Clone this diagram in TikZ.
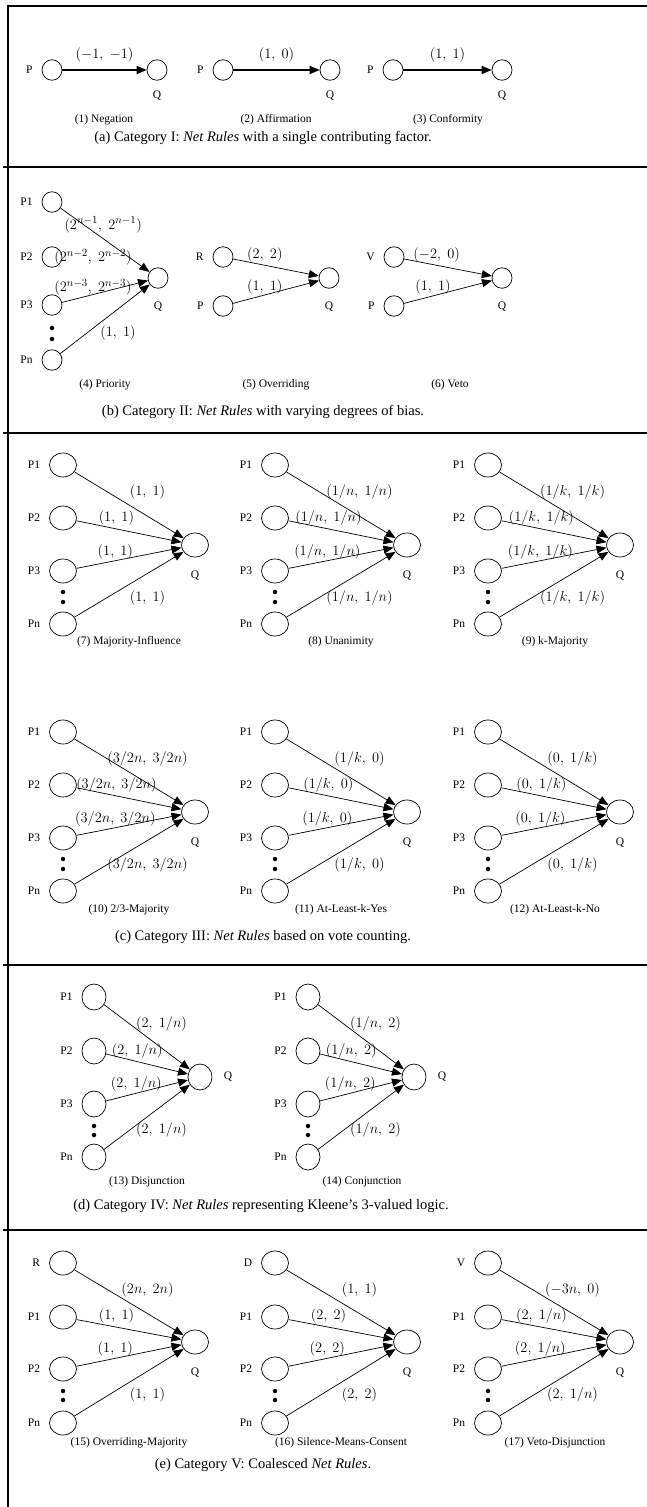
\documentclass[tikz,border=0pt]{standalone}
\usepackage{fontspec}
\setmainfont{Liberation Serif}
\usetikzlibrary{positioning, arrows.meta, shapes.geometric}

\begin{document}
\begin{tikzpicture}[
        x=1pt, y=1pt,
        on grid,
        label distance=5.5pt,
        every label/.style={font=\fontsize{11.5}{13}\selectfont},
        % Styles
        unit/.style     ={ellipse, draw=black, line width=0.7pt, minimum width=27pt, minimum height=24pt, inner sep=0pt},
        smallunit/.style={unit, minimum width=20pt, minimum height=20.5pt},
        tallunit/.style ={unit, minimum width=24pt, minimum height=26pt},
        bullet/.style   ={circle, fill=black, inner sep=0pt, minimum size=4.5pt},
        weight/.style   ={font=\fontsize{15.5}{17}\selectfont, inner sep=1pt},
        subcap/.style   ={font=\fontsize{11.5}{13}\selectfont},
        caption/.style  ={font=\fontsize{14.5}{17}\selectfont},
        line/.style     ={-{Triangle[length=10pt, width=8pt]}, line width=0.7pt},
        heavyline/.style={line, line width=1.6pt},
        sepline/.style  ={line width=2.4pt},
        topw/.style     ={pos=.67, yshift=24pt},
        upw/.style      ={pos=.38, yshift=11pt},
        lowupw/.style   ={pos=.37, yshift=9pt},
        botw/.style     ={pos=.67, yshift=-24pt}
    ]

    \useasboundingbox (0,0) rectangle (647,-1507);

    % Frame and rules between the panels
    \draw[sepline] (647,-6) -- (8,-6) -- (8,-1507);
    \draw[sepline] (3,-167) -- (647,-167);
    \draw[sepline] (3,-433) -- (647,-433);
    \draw[sepline] (3,-965) -- (647,-965);
    \draw[sepline] (3,-1230) -- (647,-1230);

    % --- (a) CATEGORY I ---

    % Negation
    \node[smallunit, label=left:P] (P_1) at (52,-70) {};
    \node[smallunit, label={[label distance=7pt]below:Q}, right=105pt of P_1] (Q_1) {};
    \draw[heavyline] (P_1) -- node[weight, midway, yshift=15pt] (w_1) {$(-1,\ -1)$} (Q_1);
    \node[subcap] (sub1) at (104,-120) {(1) Negation};

    % Affirmation
    \node[smallunit, label=left:P] (P_2) at (223,-70) {};
    \node[smallunit, label={[label distance=7pt]below:Q}, right=107pt of P_2] (Q_2) {};
    \draw[heavyline] (P_2) -- node[weight, midway, yshift=15pt] (w_2) {$(1,\ 0)$} (Q_2);
    \node[subcap] (sub2) at (276,-120) {(2) Affirmation};

    % Conformity
    \node[smallunit, label=left:P] (P_3) at (393,-70) {};
    \node[smallunit, label={[label distance=7pt]below:Q}, right=109pt of P_3] (Q_3) {};
    \draw[heavyline] (P_3) -- node[weight, midway, yshift=15pt] (w_3) {$(1,\ 1)$} (Q_3);
    \node[subcap] (sub3) at (448,-120) {(3) Conformity};

    \node[caption] (capA) at (263,-138) {(a) Category I: \textit{Net Rules} with a single contributing factor.};

    % --- (b) CATEGORY II ---

    % Priority
    \node[smallunit, label=left:P1] (P1_4) at (52,-202) {};
    \node[smallunit, label=left:P2, below=55pt of P1_4] (P2_4) {};
    \node[smallunit, label=left:P3, below=48pt of P2_4] (P3_4) {};
    \node[bullet, below=23pt of P3_4] (d1_4) {};
    \node[bullet, below=11pt of d1_4] (d2_4) {};
    \node[smallunit, label=left:Pn, below=55pt of P3_4] (Pn_4) {};
    \node[smallunit, label={[label distance=10pt]below:Q}, below right=76pt and 106pt of P1_4] (Q_4) {};
    \draw[line] (P1_4) -- node[weight, pos=.48, yshift=14pt] (w1_4) {$(2^{n-1},\ 2^{n-1})$} (Q_4);
    \node[weight, right=41pt of P2_4] (w2_4) {$(2^{n-2},\ 2^{n-2})$};
    \draw[line] (P3_4) -- node[weight, pos=.36, yshift=7pt] (w3_4) {$(2^{n-3},\ 2^{n-3})$} (Q_4);
    \draw[line] (Pn_4) -- node[weight, pos=.645, yshift=-24pt] (w4_4) {$(1,\ 1)$} (Q_4);
    \node[subcap] (sub4) at (105,-385) {(4) Priority};

    % Overriding
    \node[smallunit, label=left:R] (R_5) at (223,-257) {};
    \node[smallunit, label=left:P, below=49pt of R_5] (P_5) {};
    \node[smallunit, label={[label distance=10pt]below:Q}, below right=21pt and 106pt of R_5] (Q_5) {};
    \draw[line] (R_5) -- node[weight, pos=.37, yshift=10pt] (w1_5) {$(2,\ 2)$} (Q_5);
    \draw[line] (P_5) -- node[weight, pos=.37, yshift=8pt] (w2_5) {$(1,\ 1)$} (Q_5);
    \node[subcap] (sub5) at (276,-385) {(5) Overriding};

    % Veto
    \node[smallunit, label=left:V] (V_6) at (394,-257) {};
    \node[smallunit, label=left:P, below=49pt of V_6] (P_6) {};
    \node[smallunit, label={[label distance=10pt]below:Q}, below right=21pt and 108pt of V_6] (Q_6) {};
    \draw[line] (V_6) -- node[weight, pos=.37, yshift=10pt] (w1_6) {$(-2,\ 0)$} (Q_6);
    \draw[line] (P_6) -- node[weight, pos=.33, yshift=9pt] (w2_6) {$(1,\ 1)$} (Q_6);
    \node[subcap] (sub6) at (450,-385) {(6) Veto};

    \node[caption] (capB) at (263,-412) {(b) Category II: \textit{Net Rules} with varying degrees of bias.};

    % --- (c) CATEGORY III ---

    % Majority-Influence
    \node[unit, label=left:P1] (P1_7) at (63,-465) {};
    \node[unit, label=left:P2, below=53pt of P1_7] (P2_7) {};
    \node[unit, label=left:P3, below=53pt of P2_7] (P3_7) {};
    \node[bullet, below=21pt of P3_7] (d1_7) {};
    \node[bullet, below=10pt of d1_7] (d2_7) {};
    \node[unit, label=left:Pn, below=53pt of P3_7] (Pn_7) {};
    \node[unit, label={[label distance=10pt]below:Q}, below right=80pt and 132pt of P1_7] (Q_7) {};
    \draw[line] (P1_7) -- node[weight, topw] (w1_7) {$(1,\ 1)$} (Q_7);
    \draw[line] (P2_7) -- node[weight, upw] (w2_7) {$(1,\ 1)$} (Q_7);
    \draw[line] (P3_7) -- node[weight, lowupw] (w3_7) {$(1,\ 1)$} (Q_7);
    \draw[line] (Pn_7) -- node[weight, botw] (w4_7) {$(1,\ 1)$} (Q_7);
    \node[subcap] (sub7) at (129,-642) {(7) Majority-Influence};

    % Unanimity
    \node[unit, label=left:P1] (P1_8) at (275,-465) {};
    \node[unit, label=left:P2, below=53pt of P1_8] (P2_8) {};
    \node[unit, label=left:P3, below=53pt of P2_8] (P3_8) {};
    \node[bullet, below=21pt of P3_8] (d1_8) {};
    \node[bullet, below=10pt of d1_8] (d2_8) {};
    \node[unit, label=left:Pn, below=53pt of P3_8] (Pn_8) {};
    \node[unit, label={[label distance=10pt]below:Q}, below right=80pt and 132pt of P1_8] (Q_8) {};
    \draw[line] (P1_8) -- node[weight, topw] (w1_8) {$(1/n,\ 1/n)$} (Q_8);
    \draw[line] (P2_8) -- node[weight, upw] (w2_8) {$(1/n,\ 1/n)$} (Q_8);
    \draw[line] (P3_8) -- node[weight, lowupw] (w3_8) {$(1/n,\ 1/n)$} (Q_8);
    \draw[line] (Pn_8) -- node[weight, botw] (w4_8) {$(1/n,\ 1/n)$} (Q_8);
    \node[subcap] (sub8) at (341,-642) {(8) Unanimity};

    % k-Majority
    \node[unit, label=left:P1] (P1_9) at (488,-465) {};
    \node[unit, label=left:P2, below=53pt of P1_9] (P2_9) {};
    \node[unit, label=left:P3, below=53pt of P2_9] (P3_9) {};
    \node[bullet, below=21pt of P3_9] (d1_9) {};
    \node[bullet, below=10pt of d1_9] (d2_9) {};
    \node[unit, label=left:Pn, below=53pt of P3_9] (Pn_9) {};
    \node[unit, label={[label distance=10pt]below:Q}, below right=80pt and 132pt of P1_9] (Q_9) {};
    \draw[line] (P1_9) -- node[weight, topw] (w1_9) {$(1/k,\ 1/k)$} (Q_9);
    \draw[line] (P2_9) -- node[weight, upw] (w2_9) {$(1/k,\ 1/k)$} (Q_9);
    \draw[line] (P3_9) -- node[weight, lowupw] (w3_9) {$(1/k,\ 1/k)$} (Q_9);
    \draw[line] (Pn_9) -- node[weight, botw] (w4_9) {$(1/k,\ 1/k)$} (Q_9);
    \node[subcap] (sub9) at (555,-642) {(9) k-Majority};

    % 2/3-Majority
    \node[unit, label=left:P1] (P1_10) at (63,-732) {};
    \node[unit, label=left:P2, below=53pt of P1_10] (P2_10) {};
    \node[unit, label=left:P3, below=53pt of P2_10] (P3_10) {};
    \node[bullet, below=21pt of P3_10] (d1_10) {};
    \node[bullet, below=10pt of d1_10] (d2_10) {};
    \node[unit, label=left:Pn, below=53pt of P3_10] (Pn_10) {};
    \node[unit, label={[label distance=10pt]below:Q}, below right=80pt and 132pt of P1_10] (Q_10) {};
    \draw[line] (P1_10) -- node[weight, topw] (w1_10) {$(3/2n,\ 3/2n)$} (Q_10);
    \draw[line] (P2_10) -- node[weight, upw] (w2_10) {$(3/2n,\ 3/2n)$} (Q_10);
    \draw[line] (P3_10) -- node[weight, lowupw] (w3_10) {$(3/2n,\ 3/2n)$} (Q_10);
    \draw[line] (Pn_10) -- node[weight, botw] (w4_10) {$(3/2n,\ 3/2n)$} (Q_10);
    \node[subcap] (sub10) at (129,-910) {(10) 2/3-Majority};

    % At-Least-k-Yes
    \node[unit, label=left:P1] (P1_11) at (275,-732) {};
    \node[unit, label=left:P2, below=53pt of P1_11] (P2_11) {};
    \node[unit, label=left:P3, below=53pt of P2_11] (P3_11) {};
    \node[bullet, below=21pt of P3_11] (d1_11) {};
    \node[bullet, below=10pt of d1_11] (d2_11) {};
    \node[unit, label=left:Pn, below=53pt of P3_11] (Pn_11) {};
    \node[unit, label={[label distance=10pt]below:Q}, below right=80pt and 132pt of P1_11] (Q_11) {};
    \draw[line] (P1_11) -- node[weight, topw] (w1_11) {$(1/k,\ 0)$} (Q_11);
    \draw[line] (P2_11) -- node[weight, upw] (w2_11) {$(1/k,\ 0)$} (Q_11);
    \draw[line] (P3_11) -- node[weight, lowupw] (w3_11) {$(1/k,\ 0)$} (Q_11);
    \draw[line] (Pn_11) -- node[weight, botw] (w4_11) {$(1/k,\ 0)$} (Q_11);
    \node[subcap] (sub11) at (341,-910) {(11) At-Least-k-Yes};

    % At-Least-k-No
    \node[unit, label=left:P1] (P1_12) at (488,-732) {};
    \node[unit, label=left:P2, below=53pt of P1_12] (P2_12) {};
    \node[unit, label=left:P3, below=53pt of P2_12] (P3_12) {};
    \node[bullet, below=21pt of P3_12] (d1_12) {};
    \node[bullet, below=10pt of d1_12] (d2_12) {};
    \node[unit, label=left:Pn, below=53pt of P3_12] (Pn_12) {};
    \node[unit, label={[label distance=10pt]below:Q}, below right=80pt and 132pt of P1_12] (Q_12) {};
    \draw[line] (P1_12) -- node[weight, topw] (w1_12) {$(0,\ 1/k)$} (Q_12);
    \draw[line] (P2_12) -- node[weight, upw] (w2_12) {$(0,\ 1/k)$} (Q_12);
    \draw[line] (P3_12) -- node[weight, lowupw] (w3_12) {$(0,\ 1/k)$} (Q_12);
    \draw[line] (Pn_12) -- node[weight, botw] (w4_12) {$(0,\ 1/k)$} (Q_12);
    \node[subcap] (sub12) at (555,-910) {(12) At-Least-k-No};

    \node[caption] (capC) at (263,-937) {(c) Category III: \textit{Net Rules} based on vote counting.};

    % --- (d) CATEGORY IV ---

    % Disjunction
    \node[tallunit, label=left:P1] (P1_13) at (94,-997) {};
    \node[tallunit, label=left:P2, below=54pt of P1_13] (P2_13) {};
    \node[tallunit, label=left:P3, below=53pt of P2_13] (P3_13) {};
    \node[bullet, below=22pt of P3_13] (d1_13) {};
    \node[bullet, below=9pt of d1_13] (d2_13) {};
    \node[tallunit, label=left:Pn, below=53pt of P3_13] (Pn_13) {};
    \node[tallunit, label={[label distance=8pt]right:Q}, below right=80pt and 106pt of P1_13] (Q_13) {};
    \draw[line] (P1_13) -- node[weight, topw] (w1_13) {$(2,\ 1/n)$} (Q_13);
    \draw[line] (P2_13) -- node[weight, upw] (w2_13) {$(2,\ 1/n)$} (Q_13);
    \draw[line] (P3_13) -- node[weight, lowupw] (w3_13) {$(2,\ 1/n)$} (Q_13);
    \draw[line] (Pn_13) -- node[weight, botw] (w4_13) {$(2,\ 1/n)$} (Q_13);
    \node[subcap] (sub13) at (147,-1182) {(13) Disjunction};

    % Conjunction
    \node[tallunit, label=left:P1] (P1_14) at (308,-997) {};
    \node[tallunit, label=left:P2, below=54pt of P1_14] (P2_14) {};
    \node[tallunit, label=left:P3, below=53pt of P2_14] (P3_14) {};
    \node[bullet, below=22pt of P3_14] (d1_14) {};
    \node[bullet, below=9pt of d1_14] (d2_14) {};
    \node[tallunit, label=left:Pn, below=53pt of P3_14] (Pn_14) {};
    \node[tallunit, label={[label distance=8pt]right:Q}, below right=80pt and 106pt of P1_14] (Q_14) {};
    \draw[line] (P1_14) -- node[weight, topw] (w1_14) {$(1/n,\ 2)$} (Q_14);
    \draw[line] (P2_14) -- node[weight, upw] (w2_14) {$(1/n,\ 2)$} (Q_14);
    \draw[line] (P3_14) -- node[weight, lowupw] (w3_14) {$(1/n,\ 2)$} (Q_14);
    \draw[line] (Pn_14) -- node[weight, botw] (w4_14) {$(1/n,\ 2)$} (Q_14);
    \node[subcap] (sub14) at (362,-1182) {(14) Conjunction};

    \node[caption] (capD) at (261,-1206) {(d) Category IV: \textit{Net Rules} representing Kleene’s 3-valued logic.};

    % --- (e) CATEGORY V ---

    % Overriding-Majority
    \node[unit, label=left:R] (R_15) at (63,-1263) {};
    \node[unit, label=left:P1, below=54pt of R_15] (P1_15) {};
    \node[unit, label=left:P2, below=52pt of P1_15] (P2_15) {};
    \node[bullet, below=22pt of P2_15] (d1_15) {};
    \node[bullet, below=9pt of d1_15] (d2_15) {};
    \node[unit, label=left:Pn, below=54pt of P2_15] (Pn_15) {};
    \node[unit, label={[label distance=10pt]below:Q}, below right=79pt and 132pt of R_15] (Q_15) {};
    \draw[line] (R_15) -- node[weight, topw] (w1_15) {$(2n,\ 2n)$} (Q_15);
    \draw[line] (P1_15) -- node[weight, upw] (w2_15) {$(1,\ 1)$} (Q_15);
    \draw[line] (P2_15) -- node[weight, lowupw] (w3_15) {$(1,\ 1)$} (Q_15);
    \draw[line] (Pn_15) -- node[weight, botw] (w4_15) {$(1,\ 1)$} (Q_15);
    \node[subcap] (sub15) at (129,-1443) {(15) Overriding-Majority};

    % Silence-Means-Consent
    \node[unit, label=left:D] (D_16) at (275,-1263) {};
    \node[unit, label=left:P1, below=54pt of D_16] (P1_16) {};
    \node[unit, label=left:P2, below=52pt of P1_16] (P2_16) {};
    \node[bullet, below=22pt of P2_16] (d1_16) {};
    \node[bullet, below=9pt of d1_16] (d2_16) {};
    \node[unit, label=left:Pn, below=54pt of P2_16] (Pn_16) {};
    \node[unit, label={[label distance=10pt]below:Q}, below right=79pt and 132pt of D_16] (Q_16) {};
    \draw[line] (D_16) -- node[weight, topw] (w1_16) {$(1,\ 1)$} (Q_16);
    \draw[line] (P1_16) -- node[weight, upw] (w2_16) {$(2,\ 2)$} (Q_16);
    \draw[line] (P2_16) -- node[weight, lowupw] (w3_16) {$(2,\ 2)$} (Q_16);
    \draw[line] (Pn_16) -- node[weight, botw] (w4_16) {$(2,\ 2)$} (Q_16);
    \node[subcap] (sub16) at (341,-1443) {(16) Silence-Means-Consent};

    % Veto-Disjunction
    \node[unit, label=left:V] (V_17) at (488,-1263) {};
    \node[unit, label=left:P1, below=54pt of V_17] (P1_17) {};
    \node[unit, label=left:P2, below=52pt of P1_17] (P2_17) {};
    \node[bullet, below=22pt of P2_17] (d1_17) {};
    \node[bullet, below=9pt of d1_17] (d2_17) {};
    \node[unit, label=left:Pn, below=54pt of P2_17] (Pn_17) {};
    \node[unit, label={[label distance=10pt]below:Q}, below right=79pt and 132pt of V_17] (Q_17) {};
    \draw[line] (V_17) -- node[weight, topw] (w1_17) {$(-3n,\ 0)$} (Q_17);
    \draw[line] (P1_17) -- node[weight, upw] (w2_17) {$(2,\ 1/n)$} (Q_17);
    \draw[line] (P2_17) -- node[weight, lowupw] (w3_17) {$(2,\ 1/n)$} (Q_17);
    \draw[line] (Pn_17) -- node[weight, botw] (w4_17) {$(2,\ 1/n)$} (Q_17);
    \node[subcap] (sub17) at (555,-1443) {(17) Veto-Disjunction};

    \node[caption] (capE) at (263,-1465) {(e) Category V: Coalesced \textit{Net Rules}.};

\end{tikzpicture}
\end{document}
